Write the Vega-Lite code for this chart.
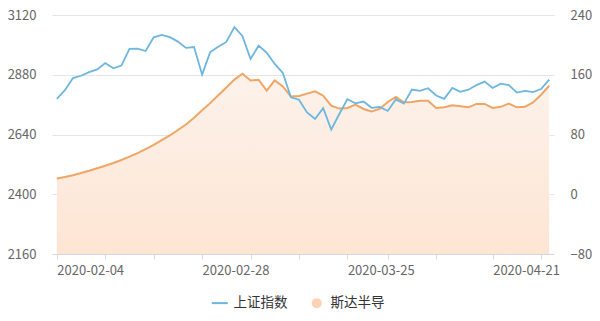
{
  "$schema": "https://vega.github.io/schema/vega-lite/v6.json",
  "width": 502,
  "height": 239,
  "autosize": {"type": "none"},
  "padding": {"left": 52, "top": 15, "right": 46, "bottom": 67},
  "background": "white",
  "config": {"view": {"stroke": null}, "font": "Noto Sans CJK SC"},
  "data": {"values": [
    {"date": "2020-02-04", "sh": 2783.29, "sd": 21},
    {"date": "2020-02-05", "sh": 2818.09, "sd": 23},
    {"date": "2020-02-06", "sh": 2866.51, "sd": 25.5},
    {"date": "2020-02-07", "sh": 2875.96, "sd": 28.5},
    {"date": "2020-02-10", "sh": 2890.49, "sd": 31.5},
    {"date": "2020-02-11", "sh": 2901.67, "sd": 34.8},
    {"date": "2020-02-12", "sh": 2926.90, "sd": 38.1},
    {"date": "2020-02-13", "sh": 2906.07, "sd": 41.8},
    {"date": "2020-02-14", "sh": 2917.01, "sd": 45.8},
    {"date": "2020-02-17", "sh": 2983.62, "sd": 50.3},
    {"date": "2020-02-18", "sh": 2984.97, "sd": 55.1},
    {"date": "2020-02-19", "sh": 2975.40, "sd": 60.5},
    {"date": "2020-02-20", "sh": 3030.15, "sd": 66.2},
    {"date": "2020-02-21", "sh": 3039.67, "sd": 72.5},
    {"date": "2020-02-24", "sh": 3031.23, "sd": 78.7},
    {"date": "2020-02-25", "sh": 3013.05, "sd": 86},
    {"date": "2020-02-26", "sh": 2987.93, "sd": 93.3},
    {"date": "2020-02-27", "sh": 2991.33, "sd": 102.5},
    {"date": "2020-02-28", "sh": 2880.30, "sd": 112.5},
    {"date": "2020-03-02", "sh": 2970.93, "sd": 122},
    {"date": "2020-03-03", "sh": 2992.90, "sd": 132.5},
    {"date": "2020-03-04", "sh": 3011.67, "sd": 143},
    {"date": "2020-03-05", "sh": 3071.68, "sd": 153.5},
    {"date": "2020-03-06", "sh": 3034.51, "sd": 161.3},
    {"date": "2020-03-09", "sh": 2943.29, "sd": 152.4},
    {"date": "2020-03-10", "sh": 2996.76, "sd": 153.3},
    {"date": "2020-03-11", "sh": 2968.52, "sd": 138.7},
    {"date": "2020-03-12", "sh": 2923.49, "sd": 152.4},
    {"date": "2020-03-13", "sh": 2887.43, "sd": 144.4},
    {"date": "2020-03-16", "sh": 2789.25, "sd": 131},
    {"date": "2020-03-17", "sh": 2779.64, "sd": 131.5},
    {"date": "2020-03-18", "sh": 2728.76, "sd": 134.7},
    {"date": "2020-03-19", "sh": 2702.13, "sd": 137.8},
    {"date": "2020-03-20", "sh": 2745.62, "sd": 132},
    {"date": "2020-03-23", "sh": 2660.17, "sd": 118.7},
    {"date": "2020-03-24", "sh": 2722.44, "sd": 114.7},
    {"date": "2020-03-25", "sh": 2781.59, "sd": 115.6},
    {"date": "2020-03-26", "sh": 2764.91, "sd": 120},
    {"date": "2020-03-27", "sh": 2772.20, "sd": 114.2},
    {"date": "2020-03-30", "sh": 2747.21, "sd": 111},
    {"date": "2020-03-31", "sh": 2750.30, "sd": 114.2},
    {"date": "2020-04-01", "sh": 2734.52, "sd": 123.6},
    {"date": "2020-04-02", "sh": 2780.64, "sd": 130.2},
    {"date": "2020-04-03", "sh": 2763.99, "sd": 123.1},
    {"date": "2020-04-07", "sh": 2820.76, "sd": 123.6},
    {"date": "2020-04-08", "sh": 2815.37, "sd": 125.3},
    {"date": "2020-04-09", "sh": 2825.90, "sd": 125.3},
    {"date": "2020-04-10", "sh": 2796.63, "sd": 115.6},
    {"date": "2020-04-13", "sh": 2783.05, "sd": 116.4},
    {"date": "2020-04-14", "sh": 2827.28, "sd": 119},
    {"date": "2020-04-15", "sh": 2811.17, "sd": 117.8},
    {"date": "2020-04-16", "sh": 2819.94, "sd": 116.4},
    {"date": "2020-04-17", "sh": 2838.49, "sd": 121},
    {"date": "2020-04-20", "sh": 2852.55, "sd": 121},
    {"date": "2020-04-21", "sh": 2827.01, "sd": 115.6},
    {"date": "2020-04-22", "sh": 2843.98, "sd": 117},
    {"date": "2020-04-23", "sh": 2838.50, "sd": 121.3},
    {"date": "2020-04-24", "sh": 2808.53, "sd": 116.4},
    {"date": "2020-04-27", "sh": 2815.49, "sd": 117},
    {"date": "2020-04-28", "sh": 2810.02, "sd": 123},
    {"date": "2020-04-29", "sh": 2822.44, "sd": 133.3},
    {"date": "2020-04-30", "sh": 2860.08, "sd": 145.3}
  ]},
  "encoding": {
    "x": {
      "field": "date",
      "type": "ordinal",
      "sort": null,
      "scale": {"type": "point", "padding": 0.6},
      "axis": {
        "title": null,
        "values": ["2020-02-04", "2020-02-12", "2020-02-20", "2020-02-28", "2020-03-09", "2020-03-17", "2020-03-25", "2020-04-01", "2020-04-10", "2020-04-21", "2020-04-29"],
        "labelExpr": "indexof(['2020-02-04','2020-02-28','2020-03-25','2020-04-21'], datum.value) >= 0 ? datum.value : ''",
        "labelAlign": "left",
        "labelAngle": 0,
        "labelOverlap": false,
        "labelFlush": false,
        "domainColor": "#d9d6e4",
        "tickColor": "#d9d6e4",
        "tickSize": 5,
        "labelColor": "#666666",
        "labelFontSize": 13,
        "labelPadding": 5,
        "grid": false
      }
    }
  },
  "layer": [
    {
      "layer": [
        {
          "mark": {
            "type": "area",
            "color": {
              "gradient": "linear",
              "x1": 0, "y1": 0, "x2": 0, "y2": 1,
              "stops": [
                {"offset": 0, "color": "#fdf2eb"},
                {"offset": 1, "color": "#fde5d3"}
              ]
            }
          },
          "encoding": {
            "y": {
              "field": "sd",
              "type": "quantitative",
              "scale": {"domain": [-80, 240], "nice": false, "zero": false},
              "axis": {
                "orient": "right",
                "title": null,
                "format": "d",
                "values": [-80, 0, 80, 160, 240],
                "domain": false,
                "ticks": false,
                "grid": false,
                "labelPadding": 16,
                "labelColor": "#666666",
                "labelFontSize": 13
              }
            },
            "y2": {"datum": -80}
          }
        },
        {
          "mark": {"type": "line", "strokeWidth": 2},
          "encoding": {
            "y": {"field": "sd", "type": "quantitative"},
            "color": {"datum": "斯达半导"}
          }
        }
      ]
    },
    {
      "mark": {"type": "line", "strokeWidth": 1.8},
      "encoding": {
        "y": {
          "field": "sh",
          "type": "quantitative",
          "scale": {"domain": [2160, 3120], "nice": false, "zero": false},
          "axis": {
            "orient": "left",
            "title": null,
            "format": "d",
            "values": [2160, 2400, 2640, 2880, 3120],
            "domain": false,
            "ticks": false,
            "grid": true,
            "gridColor": "#e6e6e6",
            "labelPadding": 16,
            "labelColor": "#666666",
            "labelFontSize": 13
          }
        },
        "color": {
          "datum": "上证指数",
          "scale": {"domain": ["上证指数", "斯达半导"], "range": ["#6cb6e0", "#f0a564"]},
          "legend": {
            "orient": "none",
            "legendX": 161,
            "legendY": 281,
            "direction": "horizontal",
            "title": null,
            "padding": 0,
            "labelFontSize": 13.5,
            "labelColor": "#333333",
            "labelOffset": 7,
            "columnPadding": 22,
            "symbolSize": 256,
            "symbolStrokeWidth": 2,
            "encode": {
              "symbols": {
                "update": {
                  "shape": {"signal": "datum.value === '上证指数' ? 'stroke' : 'circle'"},
                  "size": {"signal": "datum.value === '上证指数' ? 256 : 100"},
                  "fill": {"signal": "datum.value === '上证指数' ? 'transparent' : '#fcd4b5'"},
                  "stroke": {"signal": "datum.value === '上证指数' ? '#6cb6e0' : '#fcd4b5'"},
                  "strokeWidth": {"signal": "datum.value === '上证指数' ? 2 : 0"},
                  "opacity": {"value": 1}
                }
              }
            }
          }
        }
      }
    }
  ],
  "resolve": {"scale": {"y": "independent"}}
}
